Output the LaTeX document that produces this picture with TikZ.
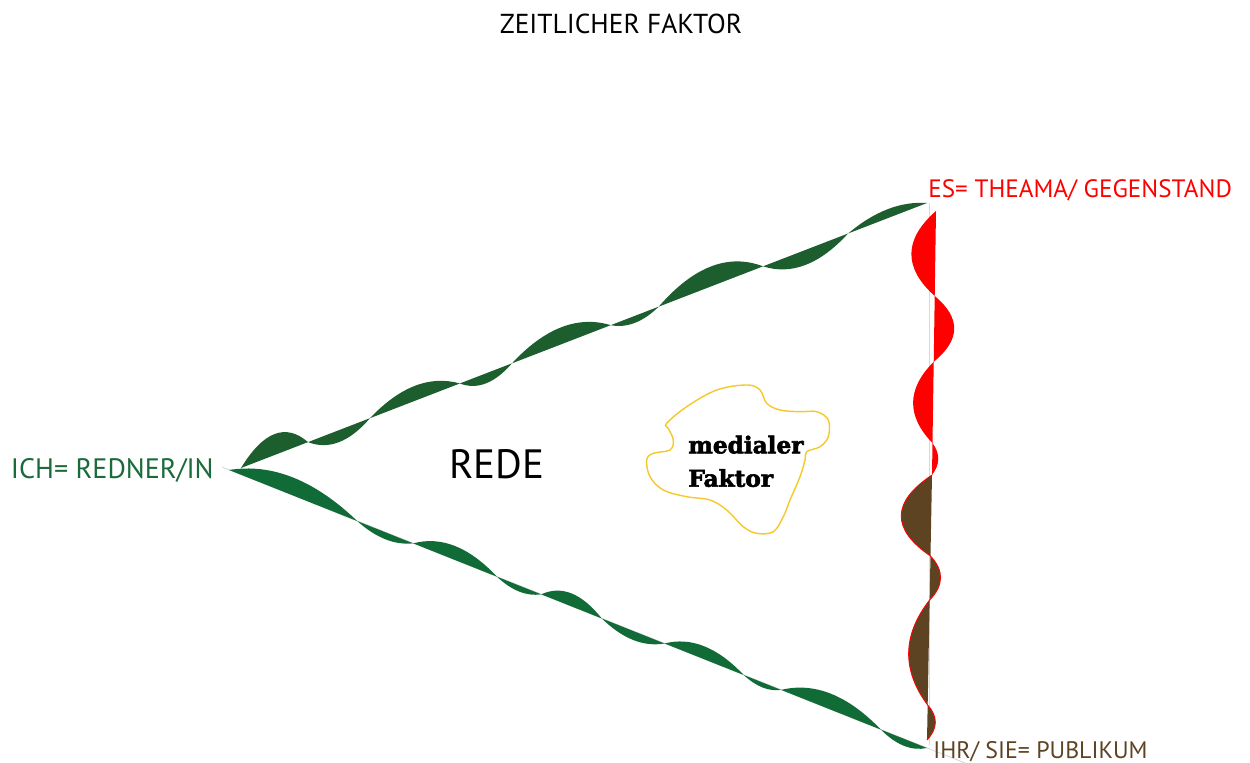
\documentclass[tikz,border=0pt]{standalone}
\usepackage{fontspec}
\setmainfont{PT Sans}
\newfontfamily\stencilfont{DejaVu Serif}[FakeBold=2.5]
\usepackage{tikz}
\usetikzlibrary{calc}
\definecolor{upgreen}{HTML}{1D5E2F}
\definecolor{lowgreen}{HTML}{116B37}
\definecolor{ichgreen}{HTML}{1A6A3A}
\definecolor{ihrbrown}{HTML}{5D4322}
\definecolor{blobyellow}{HTML}{F7C82A}
% twisted edge: straight from #1 to #2, bulges t/h, offset #4
\newcommand{\wave}[4]{(#1) \foreach \t/\h [remember=\t as \tp (initially 0)] in {#3}
  { .. controls ($(#1)!{\tp+(\t-\tp)/3}!(#2)+(#4)$) and ($(#1)!{\tp+2*(\t-\tp)/3}!(#2)+(#4)$) .. ($(#1)!\t!(#2)$)}}

\begin{document}
\begin{tikzpicture}[x=0.02cm,y=-0.02cm,
  txt/.style={inner sep=0pt,anchor=base west}]
  \fill[white] (0,0) rectangle (1250,763);
  \useasboundingbox (0,0) rectangle (1250,763);
  \coordinate (ich) at (241,468);
  \coordinate (es) at (927,203);
  \coordinate (ichlow) at (229,470);
  \coordinate (ihr) at (927,748);
  \coordinate (estop) at (936,211);
  \coordinate (esmid) at (932,475);
  \coordinate (ihrend) at (927,740);
  \coordinate (lowstart) at (222,467);
  \coordinate (lowend) at (965,763);
  \coordinate (righttop) at (929,203);
  \coordinate (rightend) at (929,745);
  \draw[gray!35,line width=0.4pt] (lowstart)--(lowend);
  \draw[gray!30,line width=0.5pt] (righttop)--(rightend);
  \fill[upgreen] \wave{ich}{es}{0.0977/21,0.188/-12,0.319/15,0.395/-10,0.539/17,0.609/-7,0.761/20,0.885/-15,1/9}{0,{-1.333*\h}} -- cycle;
  \fill[lowgreen] \wave{ichlow}{ihr}{0.1838/18,0.2639/-7,0.384/14,0.4473/-6,0.534/13,0.624/-9,0.7374/13,0.791/-5,0.934/16,1/-7}{0,{-1.333*\h}} -- cycle;
  \fill[red] \wave{estop}{esmid}{0.322/-24,0.571/20,0.879/-20,1/6}{{1.333*\h},0} -- cycle;
  \fill[ihrbrown] \wave{esmid}{ihrend}{0.3057/-30,0.4717/10.5,0.868/-20,1/8}{{1.333*\h},0} -- cycle;
  \draw[red,line width=0.5pt] \wave{esmid}{ihrend}{0.3057/-30,0.4717/10.5,0.868/-20,1/8}{{1.333*\h},0};
  \draw[blobyellow,line width=0.8pt] plot[smooth cycle,tension=0.6] coordinates {
    (666.7,423.3) (686.7,406.7) (716.7,390) (746.7,385) (760,390) (766.7,403.3)
    (780,410) (800,411.7) (816.7,411.7) (828.3,420) (828.3,436.7) (820,446.7)
    (806.7,451.7) (805,460) (800,476.7) (790,500) (783.3,516.7) (773.3,531.7)
    (756.7,533.3) (743.3,526.7) (726.7,510) (710,500) (686.7,496.7) (663.3,490)
    (650,476.7) (646.7,460) (653.3,453.3) (670,450) (673.3,440) (668.3,428.3)};
  \node[txt,anchor=base] (title) at (621,33.3) {\fontsize{15.6}{19}\selectfont ZEITLICHER FAKTOR};
  \node[txt,red] (thema) at (928,197.3) {\fontsize{14.3}{17}\selectfont ES= THEAMA/ GEGENSTAND};
  \node[txt,ichgreen,anchor=base east] (redner) at (214,478.3) {\fontsize{16}{19}\selectfont ICH= REDNER/IN};
  \node[txt,ihrbrown] (publikum) at (933,758.3) {\fontsize{13.6}{16}\selectfont IHR/ SIE= PUBLIKUM};
  \node[txt] (rede) at (449,478.5) {\fontsize{23.3}{28}\selectfont REDE};
  \node[txt] (medialer) at (688,453.3) {\stencilfont\bfseries\fontsize{13.2}{16}\selectfont medialer};
  \node[txt] (faktor) at (688,486.7) {\stencilfont\bfseries\fontsize{13.2}{16}\selectfont Faktor};
\end{tikzpicture}
\end{document}
